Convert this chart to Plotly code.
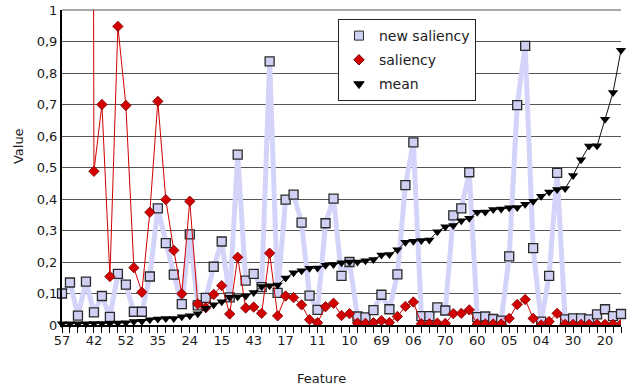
import plotly.graph_objects as go

# x positions: 71 features sorted by mean; every 4th one labelled
tick_labels = ["57", "42", "52", "35", "24", "15", "43", "17", "11", "10",
               "69", "06", "70", "60", "05", "04", "30", "20"]
n_features = 71
positions = list(range(n_features))
tick_positions = list(range(0, n_features, 4))

new_saliency = [0.100, 0.135, 0.030, 0.138, 0.040, 0.092, 0.026, 0.162, 0.128, 0.042,
                0.042, 0.154, 0.370, 0.260, 0.160, 0.066, 0.288, 0.062, 0.086, 0.185,
                0.265, 0.088, 0.541, 0.141, 0.162, 0.120, 0.837, 0.102, 0.398, 0.414,
                0.325, 0.093, 0.048, 0.323, 0.401, 0.156, 0.200, 0.027, 0.024, 0.047,
                0.096, 0.050, 0.161, 0.444, 0.580, 0.028, 0.028, 0.056, 0.046, 0.348,
                0.370, 0.485, 0.025, 0.027, 0.019, 0.014, 0.218, 0.698, 0.886, 0.244,
                0.011, 0.156, 0.483, 0.018, 0.021, 0.021, 0.018, 0.034, 0.050, 0.028,
                0.035]

saliency = [None, None, None, 12.0, 0.488, 0.700, 0.154, 0.948, 0.697, 0.182,
            0.104, 0.358, 0.710, 0.398, 0.237, 0.099, 0.393, 0.067, 0.055, 0.097,
            0.125, 0.035, 0.215, 0.054, 0.057, 0.037, 0.228, 0.029, 0.092, 0.087,
            0.064, 0.017, 0.007, 0.058, 0.069, 0.030, 0.036, 0.006, 0.005, 0.007,
            0.014, 0.008, 0.027, 0.059, 0.073, 0.004, 0.004, 0.006, 0.005, 0.036,
            0.037, 0.048, 0.003, 0.003, 0.003, 0.003, 0.021, 0.065, 0.081, 0.021,
            0.000, 0.011, 0.037, 0.002, 0.002, 0.002, 0.002, 0.002, 0.002, 0.002,
            0.002]

mean = [0.004, 0.004, 0.004, 0.004, 0.005, 0.005, 0.005, 0.006, 0.007, 0.011,
        0.012, 0.017, 0.019, 0.021, 0.021, 0.026, 0.029, 0.036, 0.053, 0.064,
        0.074, 0.088, 0.090, 0.092, 0.103, 0.122, 0.125, 0.127, 0.149, 0.166,
        0.172, 0.180, 0.181, 0.190, 0.192, 0.198, 0.200, 0.200, 0.204, 0.208,
        0.222, 0.224, 0.239, 0.263, 0.266, 0.268, 0.270, 0.296, 0.312, 0.316,
        0.331, 0.339, 0.358, 0.359, 0.367, 0.368, 0.372, 0.373, 0.383, 0.393,
        0.409, 0.422, 0.430, 0.433, 0.475, 0.525, 0.568, 0.569, 0.653, 0.738,
        0.872]

y_ticks = [0, 0.1, 0.2, 0.3, 0.4, 0.5, 0.6, 0.7, 0.8, 0.9, 1]

FONT = "DejaVu Sans"
BLUE_LINE = "rgb(212,212,250)"
BLUE_FILL = "rgb(208,208,244)"
RED = "rgb(210,0,0)"
TXT = "#1a1a1a"
GRID = "#555555"

fig = go.Figure()

# data traces (legend handled by marker-only dummies below)
fig.add_trace(go.Scatter(
    x=positions, y=new_saliency, mode="lines+markers", showlegend=False,
    line=dict(color=BLUE_LINE, width=5),
    marker=dict(symbol="square", size=9, color=BLUE_FILL,
                line=dict(color="#2a2a2a", width=1.3)),
    cliponaxis=False))
fig.add_trace(go.Scatter(
    x=positions, y=saliency, mode="lines+markers", showlegend=False,
    line=dict(color=RED, width=1), connectgaps=False,
    marker=dict(symbol="diamond", size=8, color=RED,
                line=dict(color="#7a0000", width=0.8)),
    cliponaxis=True))
fig.add_trace(go.Scatter(
    x=positions, y=mean, mode="lines+markers", showlegend=False,
    line=dict(color="#111111", width=1),
    marker=dict(symbol="triangle-down", size=9, color="#000000"),
    cliponaxis=False))

# legend entries (marker only, like the reference)
for name, sym, col, lcol, sz in [("new saliency", "square", BLUE_FILL, "#2a2a2a", 9),
                                 ("saliency", "diamond", RED, "#7a0000", 8),
                                 ("mean", "triangle-down", "#000000", "#000000", 9)]:
    fig.add_trace(go.Scatter(
        x=[None], y=[None], mode="markers", name=name,
        marker=dict(symbol=sym, size=sz, color=col, line=dict(color=lcol, width=1)),
        legendgroup=name))

fig.update_layout(
    width=634, height=391,
    margin=dict(l=62, r=13, t=10, b=66),
    paper_bgcolor="white", plot_bgcolor="white",
    separators=", ",
    font=dict(family=FONT, size=13, color=TXT),
    legend=dict(
        x=0.4937, y=0.9714, xanchor="left", yanchor="top",
        bgcolor="white", bordercolor="#222222", borderwidth=1,
        font=dict(family=FONT, size=14, color=TXT),
        itemwidth=30, tracegroupgap=3, traceorder="grouped"),
    annotations=[
        dict(text="Value", xref="paper", yref="paper", x=-0.0787, y=0.568,
             xanchor="center", yanchor="middle", textangle=-90, showarrow=False,
             font=dict(family=FONT, size=13, color=TXT)),
        dict(text="Feature", xref="paper", yref="paper", x=0.465, y=-0.171,
             xanchor="center", yanchor="middle", showarrow=False,
             font=dict(family=FONT, size=13, color=TXT)),
    ],
    shapes=[
        # top border of the plot area (gridline at 1)
        dict(type="line", xref="paper", yref="paper", x0=0, x1=1, y0=1, y1=1,
             line=dict(color=GRID, width=1), layer="below"),
    ],
)

fig.update_xaxes(
    range=[0, 70], showgrid=False, zeroline=False, automargin=False,
    showline=True, linecolor="#000000", linewidth=2,
    tickmode="array", tickvals=tick_positions, ticktext=tick_labels,
    ticks="outside", ticklen=6, tickcolor="#000000", tickwidth=1,
    ticklabelstandoff=-4,
    minor=dict(tickmode="linear", tick0=0, dtick=1, ticks="outside",
               ticklen=6, tickcolor="#000000", tickwidth=1),
    tickfont=dict(family=FONT, size=13, color=TXT),
)
fig.update_yaxes(
    range=[0, 1], tickmode="array", tickvals=y_ticks,
    automargin=False, ticklabeloverflow="allow",
    showgrid=True, gridcolor=GRID, gridwidth=1,
    zeroline=False, showline=True, linecolor="#000000", linewidth=2,
    ticks="",
    tickfont=dict(family=FONT, size=13, color=TXT),
)

# remove the default 8px page margin so the figure fills the window
fig.write_html("out.html",
               config={"displayModeBar": False},
               post_script="document.body.style.margin='0';")
